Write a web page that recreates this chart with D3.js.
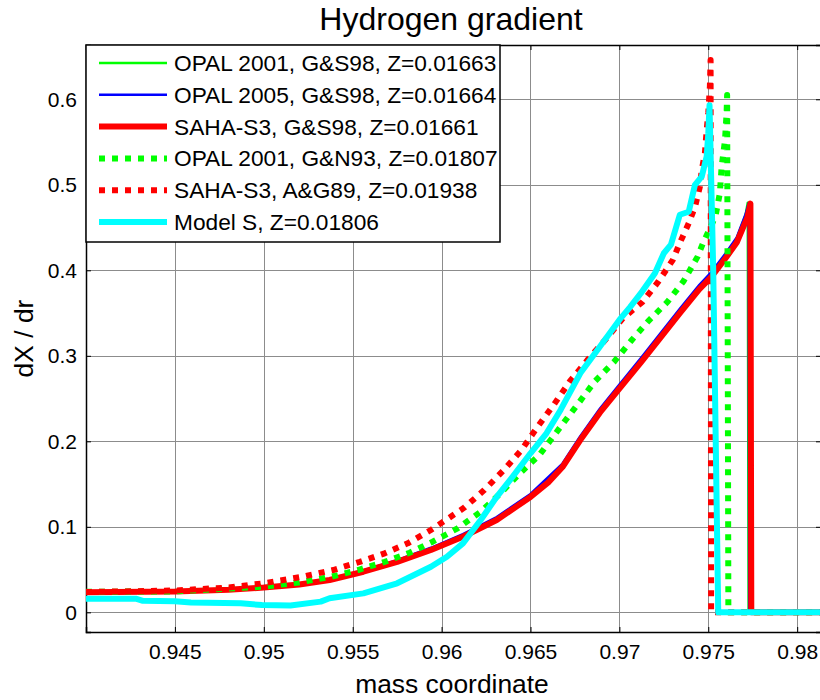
<!DOCTYPE html>
<html>
<head>
<meta charset="utf-8">
<script src="https://cdn.jsdelivr.net/npm/d3@7"></script>
<style>
  body { margin: 0; background: #fff; }
  text { font-family: "Liberation Sans", Arial, sans-serif; fill: #000; }
</style>
</head>
<body>
<div id="chart"></div>
<script>
// data: [mass coordinate, dX/dr]
const opal01gs98 = [
  [0.9400, 0.0237], [0.9450, 0.0247], [0.9480, 0.0267], [0.9500, 0.0292], [0.9520, 0.0327],
  [0.9537, 0.0380], [0.9556, 0.0478], [0.9575, 0.0593], [0.9594, 0.0740], [0.9612, 0.0898],
  [0.9631, 0.1095], [0.9650, 0.1365], [0.9668, 0.1720], [0.9678, 0.2040], [0.9689, 0.2360],
  [0.9700, 0.2645], [0.9712, 0.2950], [0.9723, 0.3240], [0.9734, 0.3530], [0.9745, 0.3810],
  [0.9752, 0.3965], [0.9760, 0.4190], [0.9766, 0.4370], [0.9771, 0.4650], [0.97722, 0.4790],
  [0.97727, 0], [0.9830, 0]
];
const opal05gs98 = [
  [0.9400, 0.0236], [0.9450, 0.0246], [0.9480, 0.0266], [0.9500, 0.0291], [0.9520, 0.0328],
  [0.9537, 0.0385], [0.9556, 0.0490], [0.9575, 0.0610], [0.9594, 0.0755], [0.9612, 0.0915],
  [0.9631, 0.1115], [0.9650, 0.1385], [0.9668, 0.1740], [0.9678, 0.2060], [0.9689, 0.2380],
  [0.9700, 0.2665], [0.9712, 0.2970], [0.9723, 0.3260], [0.9734, 0.3550], [0.9745, 0.3830],
  [0.9752, 0.3985], [0.9760, 0.4205], [0.9766, 0.4385], [0.9771, 0.4655], [0.97727, 0.4785],
  [0.97730, 0], [0.9830, 0]
];
const saha3gs98 = [
  [0.9400, 0.0235], [0.9450, 0.0245], [0.9480, 0.0265], [0.9500, 0.0290], [0.9520, 0.0325],
  [0.9537, 0.0378], [0.9556, 0.0475], [0.9575, 0.0590], [0.9594, 0.0729], [0.9612, 0.0884],
  [0.9631, 0.1080], [0.9650, 0.1350], [0.9660, 0.1520], [0.9668, 0.1700], [0.9678, 0.2015],
  [0.9689, 0.2335], [0.9700, 0.2617], [0.9712, 0.2920], [0.9723, 0.3210], [0.9734, 0.3500],
  [0.9745, 0.3780], [0.9752, 0.3930], [0.9760, 0.4150], [0.9766, 0.4325], [0.9772, 0.4620],
  [0.97737, 0.4780], [0.97742, 0], [0.9830, 0]
];
const opal01gn93 = [
  [0.9400, 0.0240], [0.9450, 0.0245], [0.9500, 0.0300], [0.9520, 0.0350], [0.9538, 0.0417],
  [0.9553, 0.0495], [0.9568, 0.0590], [0.9582, 0.0697], [0.9595, 0.0826], [0.9609, 0.0982],
  [0.9622, 0.1177], [0.9633, 0.1390], [0.9644, 0.1626], [0.9655, 0.1840], [0.9668, 0.2200],
  [0.9677, 0.2445], [0.9686, 0.2697], [0.9697, 0.2930], [0.9707, 0.3185], [0.9716, 0.3400],
  [0.9727, 0.3630], [0.9736, 0.3870], [0.9744, 0.4160], [0.9747, 0.4316], [0.9754, 0.4627],
  [0.97565, 0.4900], [0.97575, 0.5210], [0.97594, 0.5520], [0.97603, 0.5840], [0.97606, 0.6050],
  [0.97613, 0], [0.9830, 0]
];
const saha3ag89 = [
  [0.9400, 0.0237], [0.9450, 0.0255], [0.9480, 0.0290], [0.9500, 0.0340], [0.9520, 0.0410],
  [0.9539, 0.0495], [0.9554, 0.0590], [0.9568, 0.0690], [0.9581, 0.0807], [0.9594, 0.0963],
  [0.9613, 0.1228], [0.9624, 0.1430], [0.9635, 0.1664], [0.9645, 0.1900], [0.9654, 0.2170],
  [0.9663, 0.2425], [0.9672, 0.2697], [0.9682, 0.2950], [0.9692, 0.3185], [0.9702, 0.3440],
  [0.9713, 0.3630], [0.9722, 0.3870], [0.9730, 0.4120], [0.9734, 0.4320], [0.9739, 0.4550],
  [0.97425, 0.4740], [0.97453, 0.4980], [0.97463, 0.5170], [0.97481, 0.5370], [0.97491, 0.5640],
  [0.97500, 0.5840], [0.97509, 0.6150], [0.97513, 0.6460], [0.97516, 0], [0.9830, 0]
];
const modelS = [
  [0.9400, 0.0160], [0.9428, 0.0160], [0.9432, 0.0135], [0.9450, 0.0130], [0.9459, 0.0115],
  [0.9487, 0.0105], [0.9499, 0.0085], [0.9515, 0.0080], [0.9532, 0.0125], [0.9537, 0.0164],
  [0.9556, 0.0222], [0.9575, 0.0340], [0.9594, 0.0533], [0.9603, 0.0650], [0.9612, 0.0807],
  [0.9622, 0.1080], [0.9631, 0.1350], [0.9640, 0.1586], [0.9650, 0.1860], [0.9659, 0.2094],
  [0.9667, 0.2370], [0.9678, 0.2795], [0.9689, 0.3106], [0.9700, 0.3420], [0.9706, 0.3570],
  [0.9712, 0.3730], [0.9720, 0.3965], [0.9725, 0.4200], [0.9729, 0.4300], [0.9734, 0.4650],
  [0.9739, 0.4685], [0.97425, 0.5000], [0.97463, 0.5095], [0.97491, 0.5330], [0.97500, 0.5600],
  [0.97507, 0.5930], [0.97528, 0.3980], [0.97556, 0], [0.9830, 0]
];

const seriesNames = [
  "OPAL 2001, G&S98, Z=0.01663",
  "OPAL 2005, G&S98, Z=0.01664",
  "SAHA-S3, G&S98, Z=0.01661",
  "OPAL 2001, G&N93, Z=0.01807",
  "SAHA-S3, A&G89, Z=0.01938",
  "Model S, Z=0.01806"
];
const xTicks = [0.945, 0.95, 0.955, 0.96, 0.965, 0.97, 0.975, 0.98];
const yTicks = [0, 0.1, 0.2, 0.3, 0.4, 0.5, 0.6];

// line styles, in plotting order
const series = [
  { name: seriesNames[0], data: opal01gs98, color: "#00ff00", width: 2.5, dash: null },
  { name: seriesNames[1], data: opal05gs98, color: "#0000ff", width: 2.5, dash: null },
  { name: seriesNames[2], data: saha3gs98, color: "#ff0000", width: 6, dash: null },
  { name: seriesNames[3], data: opal01gn93, color: "#00ff00", width: 6, dash: "6,7" },
  { name: seriesNames[4], data: saha3ag89, color: "#ff0000", width: 6, dash: "6,7" },
  { name: seriesNames[5], data: modelS, color: "#00ffff", width: 6, dash: null }
];

// canvas
const width = 820, height = 700;
const plotLeft = 86, plotRight = 821, plotTop = 45, plotBottom = 632;

const x = d3.scaleLinear().domain([0.94, 0.98134]).range([plotLeft, plotRight]);
const y = d3.scaleLinear().domain([-0.023, 0.6635]).range([plotBottom, plotTop]);

const svg = d3.select("#chart").append("svg")
  .attr("width", width)
  .attr("height", height);

svg.append("defs").append("clipPath").attr("id", "plot-clip")
  .append("rect")
  .attr("x", plotLeft).attr("y", plotTop)
  .attr("width", plotRight - plotLeft).attr("height", plotBottom - plotTop);

// grid
const grid = svg.append("g").attr("stroke", "#8c8c8c").attr("stroke-width", 1);
grid.selectAll(".gx").data(xTicks).join("line").attr("class", "gx")
  .attr("x1", (d) => Math.round(x(d)) + 0.5).attr("x2", (d) => Math.round(x(d)) + 0.5)
  .attr("y1", plotTop).attr("y2", plotBottom);
grid.selectAll(".gy").data(yTicks).join("line").attr("class", "gy")
  .attr("y1", (d) => Math.round(y(d)) + 0.5).attr("y2", (d) => Math.round(y(d)) + 0.5)
  .attr("x1", plotLeft).attr("x2", plotRight);

// axes with inward ticks
const fmt = (d) => String(+d.toFixed(3));
const xAxis = svg.append("g")
  .attr("transform", `translate(0,${plotBottom})`)
  .call(d3.axisBottom(x).tickValues(xTicks).tickSize(-5).tickPadding(12).tickFormat(fmt));
const xAxisTop = svg.append("g")
  .attr("transform", `translate(0,${plotTop})`)
  .call(d3.axisTop(x).tickValues(xTicks).tickSize(-5).tickFormat(""));
const yAxis = svg.append("g")
  .attr("transform", `translate(${plotLeft},0)`)
  .call(d3.axisLeft(y).tickValues(yTicks).tickSize(-5).tickPadding(9).tickFormat(fmt));
const yAxisRight = svg.append("g")
  .attr("transform", `translate(${plotRight},0)`)
  .call(d3.axisRight(y).tickValues(yTicks).tickSize(-5).tickFormat(""));

[xAxis, xAxisTop, yAxis, yAxisRight].forEach((g) => {
  g.select(".domain").attr("stroke", "#000").attr("stroke-width", 1.5);
  g.selectAll(".tick line").attr("stroke", "#000");
  g.selectAll("text").style("font-size", "21px").attr("fill", "#000");
});

// curves
const line = d3.line().x((d) => x(d[0])).y((d) => y(d[1]));
const curves = svg.append("g").attr("clip-path", "url(#plot-clip)");
curves.selectAll("path").data(series).join("path")
  .attr("d", (d) => line(d.data))
  .attr("fill", "none")
  .attr("stroke", (d) => d.color)
  .attr("stroke-width", (d) => d.width)
  .attr("stroke-dasharray", (d) => d.dash)
  .attr("stroke-linejoin", "round");

// legend
const legend = svg.append("g");
legend.append("rect")
  .attr("x", plotLeft).attr("y", plotTop)
  .attr("width", 414).attr("height", 197)
  .attr("fill", "#fff").attr("stroke", "#000").attr("stroke-width", 1.5);
const item = legend.selectAll(".item").data(series).join("g")
  .attr("class", "item")
  .attr("transform", (d, i) => `translate(0,${63 + i * 31.8})`);
item.append("line")
  .attr("x1", 99).attr("x2", 167).attr("y1", 0).attr("y2", 0)
  .attr("stroke", (d) => d.color)
  .attr("stroke-width", (d) => d.width)
  .attr("stroke-dasharray", (d) => d.dash);
item.append("text")
  .attr("x", 174).attr("dy", "0.35em")
  .style("font-size", "22.7px")
  .text((d) => d.name);

// titles
svg.append("text")
  .attr("x", 451).attr("y", 30)
  .attr("text-anchor", "middle")
  .style("font-size", "32px")
  .text("Hydrogen gradient");
svg.append("text")
  .attr("x", 452).attr("y", 693)
  .attr("text-anchor", "middle")
  .style("font-size", "26.4px")
  .text("mass coordinate");
svg.append("text")
  .attr("transform", `translate(33,${(plotTop + plotBottom) / 2}) rotate(-90)`)
  .attr("text-anchor", "middle")
  .style("font-size", "26.4px")
  .text("dX / dr");
</script>
</body>
</html>
